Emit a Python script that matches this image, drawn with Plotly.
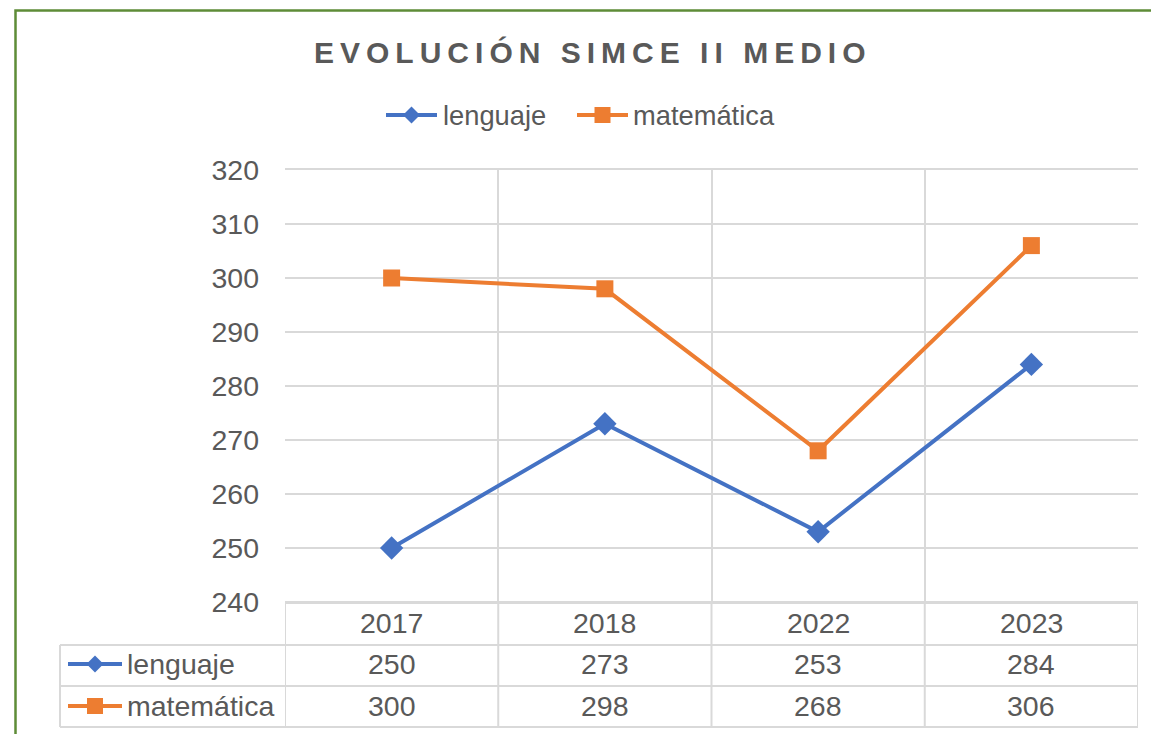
import plotly.graph_objects as go

years = ["2017", "2018", "2022", "2023"]
lenguaje = [250, 273, 253, 284]
matematica = [300, 298, 268, 306]
series_names = ["lenguaje", "matemática"]
title_text = "EVOLUCIÓN SIMCE II MEDIO"

FW, FH = 1151, 734
def px(x):
    return x / FW
def py(y):
    return 1 - y / FH

BLUE = "#4472C4"
ORANGE = "#ED7D31"
GRID = "#D9D9D9"
TXT = "#595959"
FONT = "Liberation Sans, Arial, sans-serif"
FS = 28.5

fig = go.Figure()
fig.add_trace(go.Scatter(x=years, y=lenguaje, name=series_names[0], mode="lines+markers",
                         line=dict(color=BLUE, width=4),
                         marker=dict(symbol="diamond", size=18, color=BLUE)))
fig.add_trace(go.Scatter(x=years, y=matematica, name=series_names[1], mode="lines+markers",
                         line=dict(color=ORANGE, width=4),
                         marker=dict(symbol="square", size=17, color=ORANGE)))

shapes = []
annotations = []
# green outer border
shapes.append(dict(type="rect", xref="paper", yref="paper", x0=px(15.5), x1=px(1175),
                   y0=py(760), y1=py(10.5), line=dict(color="#5E8C37", width=2.5)))
# table horizontal lines
for yy, x0 in [(645, 60), (686, 60), (727, 60), (602, 285)]:
    shapes.append(dict(type="line", xref="paper", yref="paper", x0=px(x0), x1=px(1138),
                       y0=py(yy), y1=py(yy), line=dict(color=GRID, width=2)))
# table vertical lines at category boundaries
for i in range(len(years) + 1):
    shapes.append(dict(type="line", xref="x", yref="paper", x0=i - 0.5, x1=i - 0.5,
                       y0=py(727), y1=py(602), line=dict(color=GRID, width=2)))
shapes.append(dict(type="line", xref="paper", yref="paper", x0=px(60), x1=px(60),
                   y0=py(727), y1=py(645), line=dict(color=GRID, width=2)))


def key(x0, x1, cy, col, kind, text, tx, fs):
    shapes.append(dict(type="line", xref="paper", yref="paper", x0=px(x0), x1=px(x1),
                       y0=py(cy), y1=py(cy), line=dict(color=col, width=4)))
    cx = (x0 + x1) / 2
    if kind == "diamond":
        r = 8.5
        shapes.append(dict(type="path", xref="paper", yref="paper",
                           path=f"M {px(cx-r)} {py(cy)} L {px(cx)} {py(cy-r)} L {px(cx+r)} {py(cy)} L {px(cx)} {py(cy+r)} Z",
                           fillcolor=col, line=dict(color=col, width=0)))
    else:
        r = 8
        shapes.append(dict(type="rect", xref="paper", yref="paper", x0=px(cx-r), x1=px(cx+r),
                           y0=py(cy+r), y1=py(cy-r), fillcolor=col, line=dict(color=col, width=0)))
    annotations.append(dict(text=text, xref="paper", yref="paper", x=px(tx), y=py(cy), showarrow=False,
                            xanchor="left", yanchor="middle", font=dict(size=fs, color=TXT, family=FONT)))

# legend (top)
key(386, 437, 115, BLUE, "diamond", series_names[0], 441, 27.3)
key(577, 628, 115, ORANGE, "square", series_names[1], 631, 27.3)
# table row keys
key(68, 122, 664, BLUE, "diamond", series_names[0], 125, FS)
key(68, 122, 706, ORANGE, "square", series_names[1], 125, FS)

spaced_title = "\u2009".join(title_text)
annotations.append(dict(text=f"<b>{spaced_title}</b>", xref="paper", yref="paper",
                        x=px(590), y=py(52), showarrow=False, xanchor="center", yanchor="middle",
                        font=dict(size=30, color=TXT, family=FONT)))
for i, yr in enumerate(years):
    for txt, yy in [(yr, 623), (str(lenguaje[i]), 664), (str(matematica[i]), 706)]:
        annotations.append(dict(text=txt, xref="x", yref="paper", x=i, y=py(yy), showarrow=False,
                                xanchor="center", yanchor="middle",
                                font=dict(size=FS, color=TXT, family=FONT)))

fig.update_layout(
    width=FW, height=FH,
    margin=dict(l=0, r=0, t=0, b=0, pad=0, autoexpand=False),
    paper_bgcolor="white", plot_bgcolor="white",
    font=dict(family=FONT, color=TXT, size=FS),
    showlegend=False,
    xaxis=dict(domain=[px(285), px(1138)], type="category", range=[-0.5, 3.5],
               showticklabels=False, tickson="boundaries", ticks="",
               showgrid=True, gridcolor=GRID, gridwidth=2, automargin=False,
               showline=True, linecolor=GRID, linewidth=2, mirror=True, zeroline=False),
    yaxis=dict(domain=[py(602), py(170)], range=[240, 320], dtick=10,
               showgrid=True, gridcolor=GRID, gridwidth=2, zeroline=False, automargin=False,
               showline=False, ticks="", ticklabelstandoff=25,
               tickfont=dict(size=FS, color=TXT, family=FONT)),
    shapes=shapes, annotations=annotations,
)

fig.write_html("out.html", config={"displayModeBar": False},
               post_script="document.body.style.margin='0px';document.body.style.overflow='hidden';")
